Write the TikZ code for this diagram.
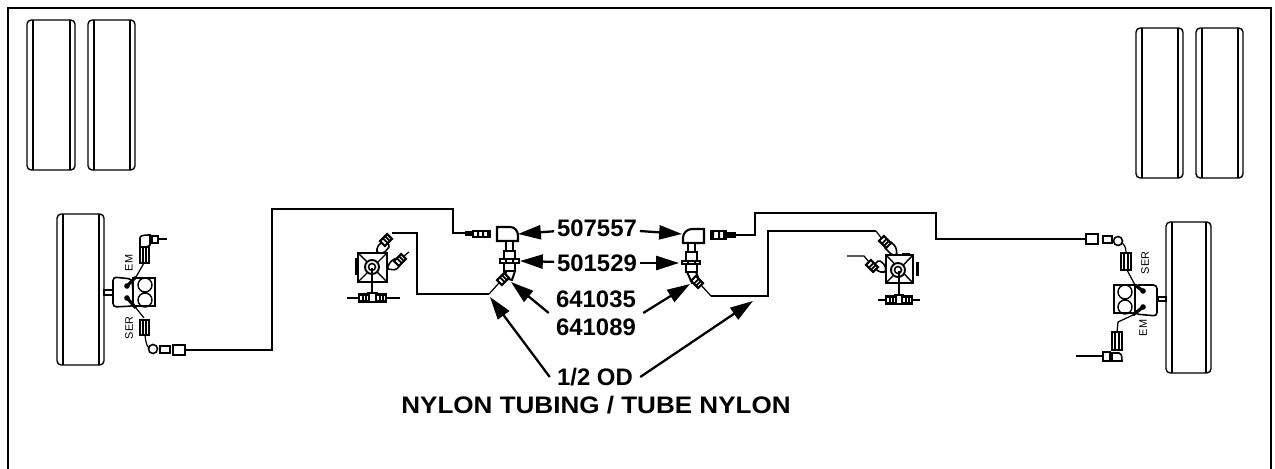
\documentclass[tikz,border=0pt]{standalone}
\usepackage{fontspec}
\setmainfont{Liberation Sans}
\usetikzlibrary{arrows.meta}

\tikzset{
  outline/.style={black,line width=0.8pt},
  part/.style={black,line width=0.9pt,fill=white},
  tube/.style={black,line width=1.5pt},
  thinline/.style={black,line width=0.7pt},
  callout/.style={black,line width=1.3pt,-{Triangle[length=13pt,width=8pt]}},
  partno/.style={font=\bfseries\fontsize{13.6}{16}\selectfont,align=center,inner sep=4pt},
  portlabel/.style={font=\fontsize{6.2}{7}\selectfont,rotate=90,inner sep=0pt},
}
\newcommand{\nutpart}[3]{
  \draw[part,line width=1.2pt,shift={(#1,#2)},rotate=#3] (-5,-3.5) rectangle (5,3.5);
  \draw[black,line width=1pt,shift={(#1,#2)},rotate=#3] (-1,-3.5) -- (-1,3.5) (2,-3.5) -- (2,3.5);
}

\begin{document}
\begin{tikzpicture}[x=0.02cm,y=-0.02cm]
  \useasboundingbox (0,0) rectangle (1275,469);
  \draw [black,line width=1.4pt] (8,469) -- (8,8) -- (1271,8) -- (1271,469);

  % tires
  \foreach \xa/\xb/\ya/\yb in {27/75/20/170,88/135/20/170,1136/1183/28/178,1196/1243/28/178,57/104/214/365,1166/1211/222/373}{
    \draw [outline,rounded corners=2.4pt] (\xa,\ya) rectangle (\xb,\yb);
    \draw [outline,line width=0.9pt] (\xa+6,\ya) -- (\xa+6,\yb);
    \draw [outline,line width=0.9pt] (\xb-5,\ya) -- (\xb-5,\yb);
  }

  % left brake chamber
  \draw [outline] (104,290) rectangle (113,295);
  \draw [part,rounded corners=2pt] (113,277) -- (132,279) -- (134,306) -- (113,307) -- cycle;
  \draw [part] (133,278) rectangle (155,306);
  \draw [outline] (145,285) circle (7) (145,300) circle (7);
  \draw [black,line width=1.8pt] (136,277) -- (127,286) (127,298) -- (136,308);
  \fill (127,286) circle (2.8) (127,298) circle (2.8);
  \draw [thinline] (136,277) -- (144,263);
  \draw [part] (140,247) rectangle (149,263);
  \draw [outline,line width=1pt] (143,247) -- (143,263) (146,247) -- (146,263);
  \draw [part] (140,247) -- (140,238) .. controls (140,236) and (142,235) .. (150,235) -- (150,245) -- (147,247) -- cycle;
  \draw [part,line width=1.2pt] (152,236) rectangle (158,243);
  \draw [thinline] (158,239) -- (167,239);
  \node [portlabel] (emleft) at (129,263) {EM};
  \node [portlabel] (serleft) at (129,328) {SER};
  \draw [thinline] (136,308) -- (144,318);
  \draw [part] (140,320) rectangle (149,335);
  \draw [outline,line width=1pt] (143,320) -- (143,335) (146,320) -- (146,335);
  \draw [thinline] (145,335) .. controls (146,345) and (148,350) .. (153,349);
  \draw [part] (153,349) circle (4.5);
  \draw [part,line width=1.3pt] (160,346) rectangle (170,353);
  \draw [part,line width=1.2pt] (173,345) rectangle (185,355);
  \draw [tube] (185,350) -- (272,350) -- (272,209) -- (453,209) -- (453,233) -- (465,233);
  % left connector
  \fill (465,231) rectangle (473,236);
  \draw [part] (473,231) rectangle (490,237);
  \fill (477,231) rectangle (479,237) (482,231) rectangle (484,237) (487,231) rectangle (490,237);

  % left valve
  \draw [part,line width=1.3pt] (358,253) rectangle (387,282);
  \draw [outline] (358,253) -- (387,282) (387,253) -- (358,282);
  \draw [black,line width=1.7pt] (356,258) -- (356,275);
  \draw [part,line width=1.1pt] (372,267) circle (7);
  \draw [part] (372,267) circle (3.5);
  \draw [black,line width=1.3pt] (372,268) -- (372,293);
  \draw [thinline] (347,298) -- (400,298);
  \draw [part] (368,293) rectangle (377,302);
  \nutpart{364}{298}{0}
  \nutpart{381}{298}{0}
  \draw [part,rounded corners=1pt] (377,253) -- (377,247) -- (384,240) -- (390,246) -- (384,253) -- cycle;
  \nutpart{386}{240}{45}
  \draw [part,rounded corners=1pt] (387,269) -- (390,262) -- (396,258) -- (401,264) -- (396,270) -- cycle;
  \nutpart{400}{260}{45}
  \draw [thinline] (404,256) -- (409,252);
  \draw [tube] (392,233) -- (417,233) -- (417,294) -- (489,294);
  \draw [thinline] (489,294) -- (499,283);

  % left union
  \draw [part,line width=1.2pt] (497,241) -- (497,227) -- (510,227) .. controls (515,227) and (518,231) .. (518,236) -- (518,241) -- cycle;
  \draw [part] (506,241) rectangle (513,251);
  \draw [part,line width=1.1pt] (504,251) rectangle (515,271);
  \draw [part,line width=1.1pt] (500,259) rectangle (519,263);
  \fill (505,259) rectangle (507,263) (512,259) rectangle (514,263);
  \draw [part,line width=1.1pt] (506,271) -- (515,271) -- (512,280) -- (505,278) -- cycle;
  \nutpart{503}{279}{45}

  % right union
  \draw [part,line width=1.2pt] (704,243) -- (704,229) -- (692,229) .. controls (687,229) and (683,233) .. (683,238) -- (683,243) -- cycle;
  \draw [part] (688,243) rectangle (695,252);
  \draw [part,line width=1.1pt] (686,252) rectangle (697,272);
  \draw [part,line width=1.1pt] (682,261) rectangle (700,264);
  \fill (687,261) rectangle (689,264) (694,261) rectangle (696,264);
  \draw [part,line width=1.1pt] (687,272) -- (696,272) -- (699,280) -- (692,283) -- cycle;
  \nutpart{697}{282}{-45}
  \draw [thinline] (701,285) -- (711,296);
  \draw [tube] (711,296) -- (768,296) -- (768,231) -- (876,231);
  \draw [thinline] (876,231) -- (882,239);
  % right connector
  \draw [part] (711,231) rectangle (726,239);
  \fill (711,231) rectangle (714,239) (718,231) rectangle (720,239) (723,231) rectangle (725,239);
  \fill (727,232) rectangle (736,238);
  \draw [tube] (736,235) -- (755,235) -- (755,213) -- (936,213) -- (936,239) -- (1086,239);

  % right valve
  \draw [part,line width=1.3pt] (886,255) rectangle (913,283);
  \draw [outline] (886,255) -- (913,283) (913,255) -- (886,283);
  \draw [black,line width=1.7pt] (917,262) -- (917,276);
  \draw [black,line width=1.7pt] (902,254) -- (910,254);
  \draw [part,line width=1.1pt] (898,270) circle (7);
  \draw [part] (898,270) circle (3.5);
  \draw [black,line width=1.3pt] (899,271) -- (899,295);
  \draw [thinline] (878,300) -- (920,300);
  \draw [part] (895,295) rectangle (903,304);
  \nutpart{891}{300}{0}
  \nutpart{907}{300}{0}
  \draw [part,rounded corners=1pt] (892,255) -- (884,247) -- (890,241) -- (896,247) -- (897,255) -- cycle;
  \nutpart{885}{242}{-45}
  \draw [part,rounded corners=1pt] (886,272) -- (879,272) -- (873,266) -- (879,260) -- (885,265) -- cycle;
  \nutpart{872}{266}{-45}
  \draw [thinline] (847,256) -- (864,256) -- (869,262);

  % right brake chamber
  \draw [outline] (1158,297) rectangle (1166,301);
  \draw [part,rounded corners=2pt] (1135,285) -- (1157,285) -- (1157,316) -- (1135,314) -- cycle;
  \draw [part] (1114,285) rectangle (1135,313);
  \draw [outline] (1125,292) circle (7) (1125,307) circle (7);
  \draw [black,line width=1.8pt] (1135,285) -- (1143,291) (1143,307) -- (1133,315);
  \fill (1143,291) circle (2.8) (1143,307) circle (2.8);
  \draw [thinline] (1127,270) -- (1135,285);
  \draw [part] (1121,253) rectangle (1131,270);
  \draw [outline,line width=1pt] (1124,253) -- (1124,270) (1128,253) -- (1128,270);
  \draw [thinline] (1126,253) .. controls (1126,248) and (1125,244) .. (1120,242);
  \draw [part] (1118,241) circle (4.5);
  \draw [part,line width=1.3pt] (1103,236) rectangle (1112,243);
  \draw [part,line width=1.2pt] (1086,234) rectangle (1098,244);
  \node [portlabel] (serright) at (1145,263) {SER};
  \node [portlabel] (emright) at (1143,328) {EM};
  \draw [thinline] (1133,315) -- (1118,322) -- (1117,332);
  \draw [part] (1112,332) rectangle (1122,350);
  \draw [outline,line width=1pt] (1115,332) -- (1115,350) (1119,332) -- (1119,350);
  \draw [part] (1112,353) -- (1119,353) .. controls (1121,353) and (1122,355) .. (1122,361) -- (1112,361) -- cycle;
  \draw [part,line width=1.3pt] (1103,352) rectangle (1110,361);
  \draw [thinline] (1076,356) -- (1103,356);

  % part numbers
  \node [partno,inner sep=1.5pt] (elbowno) at (597,228) {507557};
  \node [partno,inner sep=1.5pt] (unionno) at (597,263) {501529};
  \node [partno] (nutno) at (596,313) {641035\\641089};
  \node [partno] (odno) at (595,377) {1/2 OD};
  \node [partno,transform shape,xscale=1.09] (nylonno) at (596,405) {NYLON TUBING / TUBE NYLON};

  \coordinate (elbowl) at (518,234);
  \coordinate (elbowr) at (682,234);
  \coordinate (unionl) at (520,261);
  \coordinate (unionr) at (679,263);
  \coordinate (nutl) at (511,282);
  \coordinate (nutr) at (690,284);
  \coordinate (tubel) at (490,297);
  \coordinate (tuber) at (753,301);
  \draw [callout] (elbowno) -- (elbowl);
  \draw [callout] (elbowno) -- (elbowr);
  \draw [callout] (unionno) -- (unionl);
  \draw [callout] (unionno) -- (unionr);
  \draw [callout] (nutno.west) -- (nutl);
  \draw [callout] (nutno.east) -- (nutr);
  \draw [callout] (odno.west) -- (tubel);
  \draw [callout] (odno.east) -- (tuber);
\end{tikzpicture}
\end{document}
